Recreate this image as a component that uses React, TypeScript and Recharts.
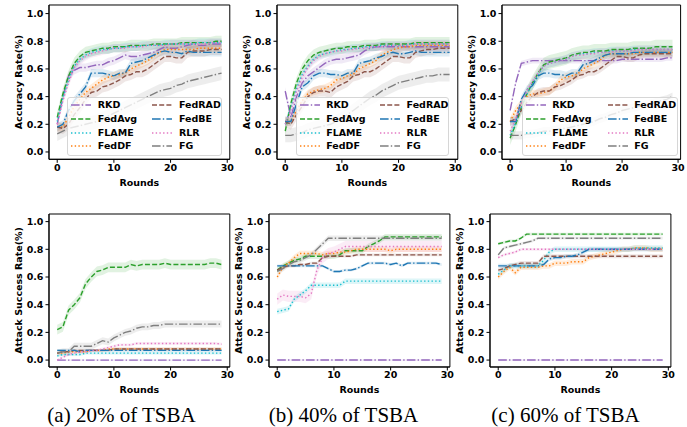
import { ComposedChart, Line, Area, XAxis, YAxis, ReferenceArea } from 'recharts';

const ROUNDS = Array.from({ length: 30 }, (_, i) => i);
const X_TICKS = [0, 10, 20, 30];
const Y_TICKS = [0, 0.2, 0.4, 0.6, 0.8, 1.0];
const NAMES = ['RKD', 'FedAvg', 'FLAME', 'FedDF', 'FedRAD', 'FedBE', 'RLR', 'FG'];
const COLORS = ['#9467bd', '#2ca02c', '#17becf', '#ff7f0e', '#8c564b', '#1f77b4', '#e377c2', '#7f7f7f'];
const DASHES = ['8.6 2.2 1.4 2.2', '5 2.2', '1.4 2.3', '1.4 2.3', '5 2.2', '8.6 2.2 1.4 2.2', '1.4 2.3', '8.6 2.2 1.4 2.2'];
const CAPTIONS = ['(a) 20% of TSBA', '(b) 40% of TSBA', '(c) 60% of TSBA'];

// accuracy, 20% TSBA
const acc20RKD = [0.20, 0.40, 0.55, 0.59, 0.61, 0.61, 0.62, 0.63, 0.63, 0.65, 0.66, 0.68, 0.70, 0.69, 0.69, 0.70, 0.71, 0.72, 0.74, 0.76, 0.75, 0.75, 0.76, 0.77, 0.78, 0.77, 0.77, 0.78, 0.78, 0.78];
const acc20FedAvg = [0.25, 0.42, 0.55, 0.64, 0.69, 0.72, 0.73, 0.74, 0.75, 0.75, 0.76, 0.76, 0.76, 0.77, 0.77, 0.77, 0.77, 0.78, 0.78, 0.78, 0.78, 0.78, 0.79, 0.79, 0.79, 0.79, 0.79, 0.79, 0.80, 0.80];
const acc20FLAME = [0.22, 0.39, 0.52, 0.62, 0.67, 0.70, 0.72, 0.73, 0.74, 0.74, 0.75, 0.75, 0.76, 0.76, 0.76, 0.77, 0.77, 0.77, 0.77, 0.78, 0.78, 0.78, 0.78, 0.78, 0.78, 0.79, 0.79, 0.79, 0.79, 0.79];
const acc20FedDF = [0.18, 0.18, 0.25, 0.33, 0.38, 0.43, 0.46, 0.49, 0.52, 0.54, 0.55, 0.56, 0.57, 0.60, 0.62, 0.64, 0.66, 0.69, 0.72, 0.74, 0.74, 0.74, 0.74, 0.74, 0.74, 0.75, 0.75, 0.75, 0.75, 0.75];
const acc20FedRAD = [0.18, 0.17, 0.20, 0.27, 0.32, 0.38, 0.43, 0.44, 0.47, 0.48, 0.50, 0.52, 0.55, 0.56, 0.58, 0.58, 0.60, 0.63, 0.66, 0.69, 0.69, 0.68, 0.68, 0.72, 0.73, 0.73, 0.73, 0.74, 0.74, 0.74];
const acc20FedBE = [0.18, 0.20, 0.30, 0.37, 0.42, 0.47, 0.57, 0.57, 0.57, 0.56, 0.55, 0.57, 0.57, 0.64, 0.65, 0.66, 0.68, 0.70, 0.72, 0.73, 0.72, 0.72, 0.71, 0.73, 0.72, 0.72, 0.72, 0.72, 0.72, 0.72];
const acc20RLR = [0.20, 0.37, 0.50, 0.61, 0.66, 0.69, 0.71, 0.72, 0.73, 0.74, 0.75, 0.75, 0.75, 0.76, 0.76, 0.76, 0.77, 0.77, 0.77, 0.77, 0.78, 0.78, 0.78, 0.78, 0.78, 0.78, 0.78, 0.79, 0.79, 0.79];
const acc20FG = [0.13, 0.15, 0.17, 0.18, 0.19, 0.20, 0.21, 0.22, 0.24, 0.26, 0.28, 0.30, 0.32, 0.34, 0.36, 0.38, 0.40, 0.42, 0.44, 0.45, 0.46, 0.48, 0.49, 0.51, 0.52, 0.53, 0.54, 0.55, 0.56, 0.57];

// accuracy, 40% TSBA
const acc40RKD = [0.44, 0.25, 0.40, 0.50, 0.55, 0.58, 0.61, 0.64, 0.66, 0.67, 0.67, 0.68, 0.69, 0.70, 0.73, 0.75, 0.76, 0.76, 0.76, 0.76, 0.76, 0.76, 0.76, 0.76, 0.76, 0.76, 0.76, 0.76, 0.76, 0.76];
const acc40FedAvg = [0.15, 0.35, 0.50, 0.60, 0.66, 0.70, 0.72, 0.73, 0.74, 0.75, 0.75, 0.76, 0.76, 0.76, 0.77, 0.77, 0.77, 0.78, 0.78, 0.78, 0.78, 0.78, 0.78, 0.79, 0.79, 0.79, 0.79, 0.79, 0.79, 0.79];
const acc40FLAME = [0.20, 0.32, 0.46, 0.56, 0.62, 0.67, 0.70, 0.71, 0.72, 0.73, 0.74, 0.74, 0.75, 0.75, 0.76, 0.76, 0.76, 0.77, 0.77, 0.77, 0.77, 0.77, 0.78, 0.78, 0.78, 0.78, 0.78, 0.78, 0.78, 0.78];
const acc40FedDF = [0.22, 0.22, 0.30, 0.37, 0.42, 0.44, 0.45, 0.46, 0.48, 0.52, 0.53, 0.55, 0.56, 0.60, 0.62, 0.64, 0.66, 0.70, 0.72, 0.74, 0.75, 0.76, 0.76, 0.77, 0.77, 0.77, 0.77, 0.77, 0.77, 0.77];
const acc40FedRAD = [0.22, 0.20, 0.27, 0.33, 0.40, 0.43, 0.44, 0.44, 0.43, 0.47, 0.49, 0.51, 0.55, 0.56, 0.58, 0.58, 0.60, 0.63, 0.66, 0.69, 0.69, 0.68, 0.68, 0.72, 0.73, 0.74, 0.74, 0.75, 0.75, 0.75];
const acc40FedBE = [0.22, 0.22, 0.35, 0.47, 0.50, 0.55, 0.57, 0.57, 0.56, 0.56, 0.55, 0.57, 0.57, 0.64, 0.65, 0.66, 0.68, 0.69, 0.71, 0.72, 0.71, 0.71, 0.72, 0.73, 0.72, 0.72, 0.72, 0.72, 0.72, 0.72];
const acc40RLR = [0.20, 0.30, 0.44, 0.54, 0.61, 0.66, 0.69, 0.71, 0.72, 0.73, 0.73, 0.74, 0.74, 0.75, 0.75, 0.76, 0.76, 0.76, 0.77, 0.77, 0.77, 0.77, 0.77, 0.78, 0.78, 0.78, 0.78, 0.78, 0.78, 0.78];
const acc40FG = [0.12, 0.12, 0.13, 0.14, 0.16, 0.17, 0.18, 0.19, 0.20, 0.22, 0.24, 0.27, 0.30, 0.33, 0.36, 0.39, 0.41, 0.44, 0.46, 0.48, 0.50, 0.51, 0.52, 0.53, 0.54, 0.55, 0.55, 0.56, 0.56, 0.56];

// accuracy, 60% TSBA
const acc60RKD = [0.30, 0.50, 0.64, 0.65, 0.66, 0.66, 0.66, 0.66, 0.66, 0.66, 0.66, 0.66, 0.66, 0.66, 0.66, 0.66, 0.66, 0.66, 0.66, 0.66, 0.67, 0.67, 0.67, 0.67, 0.67, 0.67, 0.67, 0.67, 0.68, 0.68];
const acc60FedAvg = [0.10, 0.20, 0.32, 0.42, 0.50, 0.57, 0.63, 0.65, 0.66, 0.67, 0.68, 0.70, 0.71, 0.72, 0.72, 0.73, 0.73, 0.73, 0.74, 0.74, 0.74, 0.74, 0.75, 0.75, 0.75, 0.75, 0.76, 0.76, 0.76, 0.76];
const acc60FLAME = [0.12, 0.21, 0.32, 0.42, 0.50, 0.56, 0.62, 0.64, 0.65, 0.66, 0.67, 0.69, 0.70, 0.71, 0.71, 0.72, 0.72, 0.72, 0.73, 0.73, 0.73, 0.73, 0.74, 0.74, 0.74, 0.74, 0.74, 0.74, 0.74, 0.74];
const acc60FedDF = [0.22, 0.30, 0.35, 0.40, 0.42, 0.42, 0.43, 0.44, 0.47, 0.52, 0.54, 0.55, 0.56, 0.60, 0.62, 0.64, 0.66, 0.70, 0.71, 0.71, 0.71, 0.71, 0.71, 0.72, 0.72, 0.72, 0.72, 0.72, 0.72, 0.72];
const acc60FedRAD = [0.22, 0.24, 0.30, 0.36, 0.40, 0.43, 0.44, 0.44, 0.47, 0.48, 0.50, 0.52, 0.55, 0.56, 0.58, 0.58, 0.60, 0.63, 0.66, 0.69, 0.69, 0.68, 0.68, 0.70, 0.71, 0.71, 0.71, 0.71, 0.71, 0.71];
const acc60FedBE = [0.22, 0.22, 0.38, 0.45, 0.48, 0.55, 0.57, 0.57, 0.56, 0.56, 0.55, 0.57, 0.57, 0.63, 0.64, 0.66, 0.68, 0.70, 0.71, 0.71, 0.71, 0.71, 0.72, 0.72, 0.72, 0.72, 0.72, 0.72, 0.72, 0.72];
const acc60RLR = [0.15, 0.24, 0.35, 0.44, 0.51, 0.57, 0.62, 0.64, 0.65, 0.66, 0.67, 0.69, 0.70, 0.70, 0.71, 0.71, 0.72, 0.72, 0.72, 0.73, 0.73, 0.73, 0.73, 0.74, 0.74, 0.74, 0.74, 0.74, 0.74, 0.74];
const acc60FG = [0.12, 0.12, 0.12, 0.13, 0.13, 0.14, 0.15, 0.15, 0.16, 0.17, 0.17, 0.18, 0.19, 0.20, 0.21, 0.22, 0.24, 0.25, 0.27, 0.28, 0.30, 0.31, 0.32, 0.33, 0.34, 0.35, 0.36, 0.37, 0.38, 0.40];

// attack success rate, 20% TSBA
const asr20RKD = [0, 0, 0, 0, 0, 0, 0, 0, 0, 0, 0, 0, 0, 0, 0, 0, 0, 0, 0, 0, 0, 0, 0, 0, 0, 0, 0, 0, 0, 0];
const asr20FedAvg = [0.22, 0.24, 0.36, 0.40, 0.45, 0.55, 0.60, 0.64, 0.65, 0.67, 0.67, 0.67, 0.67, 0.69, 0.68, 0.69, 0.69, 0.69, 0.69, 0.70, 0.69, 0.69, 0.69, 0.69, 0.69, 0.69, 0.69, 0.70, 0.70, 0.69];
const asr20FLAME = [0.03, 0.04, 0.04, 0.04, 0.04, 0.05, 0.05, 0.05, 0.05, 0.05, 0.05, 0.05, 0.05, 0.05, 0.05, 0.05, 0.05, 0.05, 0.05, 0.05, 0.05, 0.05, 0.05, 0.05, 0.05, 0.05, 0.05, 0.05, 0.05, 0.05];
const asr20FedDF = [0.05, 0.05, 0.06, 0.06, 0.06, 0.06, 0.07, 0.07, 0.07, 0.08, 0.08, 0.08, 0.08, 0.08, 0.08, 0.08, 0.08, 0.08, 0.08, 0.08, 0.08, 0.08, 0.08, 0.08, 0.08, 0.08, 0.08, 0.08, 0.08, 0.08];
const asr20FedRAD = [0.05, 0.06, 0.06, 0.07, 0.07, 0.07, 0.07, 0.07, 0.07, 0.07, 0.08, 0.08, 0.08, 0.08, 0.08, 0.08, 0.08, 0.08, 0.08, 0.08, 0.08, 0.08, 0.08, 0.08, 0.08, 0.08, 0.08, 0.08, 0.08, 0.08];
const asr20FedBE = [0.07, 0.07, 0.07, 0.07, 0.06, 0.07, 0.07, 0.07, 0.07, 0.07, 0.07, 0.07, 0.07, 0.07, 0.07, 0.07, 0.07, 0.07, 0.07, 0.07, 0.07, 0.07, 0.07, 0.07, 0.07, 0.07, 0.07, 0.07, 0.07, 0.07];
const asr20RLR = [0.00, 0.02, 0.04, 0.05, 0.06, 0.06, 0.07, 0.07, 0.08, 0.09, 0.10, 0.11, 0.11, 0.11, 0.12, 0.12, 0.12, 0.12, 0.12, 0.12, 0.12, 0.12, 0.12, 0.12, 0.12, 0.12, 0.12, 0.12, 0.12, 0.115];
const asr20FG = [0.05, 0.06, 0.06, 0.10, 0.10, 0.10, 0.10, 0.12, 0.14, 0.13, 0.16, 0.18, 0.20, 0.21, 0.23, 0.24, 0.24, 0.25, 0.25, 0.26, 0.26, 0.26, 0.26, 0.26, 0.26, 0.26, 0.26, 0.26, 0.26, 0.26];

// attack success rate, 40% TSBA
const asr40RKD = [0, 0, 0, 0, 0, 0, 0, 0, 0, 0, 0, 0, 0, 0, 0, 0, 0, 0, 0, 0, 0, 0, 0, 0, 0, 0, 0, 0, 0, 0];
const asr40FedAvg = [0.65, 0.68, 0.70, 0.72, 0.73, 0.75, 0.75, 0.75, 0.75, 0.75, 0.75, 0.76, 0.79, 0.79, 0.79, 0.79, 0.82, 0.84, 0.86, 0.89, 0.89, 0.89, 0.89, 0.89, 0.89, 0.89, 0.89, 0.89, 0.89, 0.89];
const asr40FLAME = [0.35, 0.36, 0.37, 0.44, 0.47, 0.50, 0.54, 0.54, 0.54, 0.54, 0.54, 0.54, 0.57, 0.57, 0.57, 0.57, 0.57, 0.57, 0.57, 0.57, 0.57, 0.57, 0.57, 0.57, 0.57, 0.57, 0.57, 0.57, 0.57, 0.57];
const asr40FedDF = [0.60, 0.67, 0.70, 0.74, 0.77, 0.77, 0.77, 0.77, 0.76, 0.77, 0.77, 0.78, 0.78, 0.79, 0.80, 0.80, 0.80, 0.80, 0.80, 0.80, 0.79, 0.80, 0.80, 0.80, 0.80, 0.80, 0.80, 0.80, 0.80, 0.80];
const asr40FedRAD = [0.65, 0.67, 0.68, 0.68, 0.69, 0.69, 0.70, 0.70, 0.74, 0.75, 0.75, 0.75, 0.75, 0.75, 0.76, 0.76, 0.76, 0.76, 0.76, 0.76, 0.76, 0.76, 0.76, 0.76, 0.76, 0.76, 0.76, 0.76, 0.76, 0.76];
const asr40FedBE = [0.68, 0.68, 0.68, 0.68, 0.68, 0.68, 0.68, 0.68, 0.68, 0.66, 0.64, 0.64, 0.65, 0.65, 0.66, 0.68, 0.70, 0.70, 0.70, 0.70, 0.69, 0.70, 0.68, 0.70, 0.70, 0.70, 0.70, 0.70, 0.70, 0.69];
const asr40RLR = [0.44, 0.47, 0.46, 0.46, 0.46, 0.45, 0.48, 0.65, 0.74, 0.77, 0.78, 0.80, 0.82, 0.82, 0.82, 0.82, 0.82, 0.82, 0.82, 0.82, 0.82, 0.82, 0.82, 0.82, 0.82, 0.82, 0.82, 0.82, 0.82, 0.82];
const asr40FG = [0.64, 0.66, 0.69, 0.71, 0.72, 0.74, 0.76, 0.80, 0.84, 0.88, 0.88, 0.88, 0.88, 0.88, 0.88, 0.88, 0.88, 0.88, 0.88, 0.88, 0.88, 0.88, 0.88, 0.88, 0.88, 0.88, 0.88, 0.88, 0.88, 0.88];

// attack success rate, 60% TSBA
const asr60RKD = [0, 0, 0, 0, 0, 0, 0, 0, 0, 0, 0, 0, 0, 0, 0, 0, 0, 0, 0, 0, 0, 0, 0, 0, 0, 0, 0, 0, 0, 0];
const asr60FedAvg = [0.84, 0.85, 0.86, 0.86, 0.88, 0.91, 0.91, 0.91, 0.91, 0.91, 0.91, 0.91, 0.91, 0.91, 0.91, 0.91, 0.91, 0.91, 0.91, 0.91, 0.91, 0.91, 0.91, 0.91, 0.91, 0.91, 0.91, 0.91, 0.91, 0.91];
const asr60FLAME = [0.62, 0.65, 0.68, 0.68, 0.68, 0.68, 0.68, 0.68, 0.72, 0.78, 0.80, 0.80, 0.80, 0.80, 0.80, 0.80, 0.80, 0.80, 0.80, 0.80, 0.80, 0.80, 0.80, 0.80, 0.81, 0.81, 0.81, 0.81, 0.81, 0.81];
const asr60FedDF = [0.60, 0.64, 0.67, 0.63, 0.67, 0.67, 0.67, 0.67, 0.68, 0.68, 0.70, 0.70, 0.70, 0.71, 0.71, 0.71, 0.74, 0.75, 0.76, 0.77, 0.78, 0.79, 0.80, 0.80, 0.81, 0.81, 0.81, 0.80, 0.80, 0.80];
const asr60FedRAD = [0.65, 0.66, 0.68, 0.69, 0.70, 0.70, 0.70, 0.70, 0.75, 0.75, 0.75, 0.75, 0.75, 0.75, 0.75, 0.75, 0.75, 0.75, 0.75, 0.75, 0.75, 0.75, 0.75, 0.75, 0.75, 0.75, 0.75, 0.75, 0.75, 0.75];
const asr60FedBE = [0.68, 0.68, 0.68, 0.68, 0.68, 0.68, 0.68, 0.68, 0.69, 0.73, 0.74, 0.74, 0.75, 0.75, 0.76, 0.78, 0.80, 0.80, 0.80, 0.80, 0.80, 0.80, 0.80, 0.80, 0.80, 0.80, 0.80, 0.80, 0.80, 0.80];
const asr60RLR = [0.74, 0.76, 0.77, 0.78, 0.80, 0.80, 0.80, 0.80, 0.80, 0.80, 0.80, 0.80, 0.80, 0.80, 0.80, 0.80, 0.80, 0.80, 0.80, 0.80, 0.80, 0.80, 0.80, 0.80, 0.80, 0.80, 0.80, 0.80, 0.80, 0.80];
const asr60FG = [0.76, 0.81, 0.82, 0.83, 0.84, 0.85, 0.86, 0.88, 0.88, 0.88, 0.88, 0.88, 0.88, 0.88, 0.88, 0.88, 0.88, 0.88, 0.88, 0.88, 0.88, 0.88, 0.88, 0.88, 0.88, 0.88, 0.88, 0.88, 0.88, 0.88];

// half-width of the shaded band per series (RKD..FG order)
const acc20Spread = [0.03, 0.04, 0.03, 0.03, 0.04, 0.03, 0.03, 0.05];
const acc40Spread = [0.03, 0.04, 0.03, 0.03, 0.04, 0.03, 0.03, 0.05];
const acc60Spread = [0.02, 0.05, 0.03, 0.03, 0.03, 0.03, 0.03, 0.03];
const asr20Spread = [0.005, 0.035, 0.01, 0.01, 0.01, 0.01, 0.01, 0.025];
const asr40Spread = [0.005, 0.02, 0.02, 0.02, 0.01, 0.01, 0.04, 0.02];
const asr60Spread = [0.005, 0.01, 0.02, 0.02, 0.015, 0.015, 0.01, 0.01];

interface PanelDef {
  series: number[][];
  spread: number[];
  left: number;
  right: number;
  top: number;
  bottom: number;
  yDomain: [number, number];
  yLabel: string;
  legend?: { left: number; width: number };
}

const PANELS: PanelDef[] = [
  { series: [acc20RKD, acc20FedAvg, acc20FLAME, acc20FedDF, acc20FedRAD, acc20FedBE, acc20RLR, acc20FG], spread: acc20Spread, left: 48.5, right: 229.3, top: 4.7, bottom: 159, yDomain: [-0.053, 1.062], yLabel: 'Accuracy Rate(%)', legend: { left: 67.3, width: 154.4 } },
  { series: [acc40RKD, acc40FedAvg, acc40FLAME, acc40FedDF, acc40FedRAD, acc40FedBE, acc40RLR, acc40FG], spread: acc40Spread, left: 276.5, right: 457.3, top: 4.7, bottom: 159, yDomain: [-0.053, 1.062], yLabel: 'Accuracy Rate(%)', legend: { left: 295.7, width: 153 } },
  { series: [acc60RKD, acc60FedAvg, acc60FLAME, acc60FedDF, acc60FedRAD, acc60FedBE, acc60RLR, acc60FG], spread: acc60Spread, left: 501.9, right: 680.5, top: 4.7, bottom: 159, yDomain: [-0.053, 1.062], yLabel: 'Accuracy Rate(%)', legend: { left: 521.7, width: 156 } },
  { series: [asr20RKD, asr20FedAvg, asr20FLAME, asr20FedDF, asr20FedRAD, asr20FedBE, asr20RLR, asr20FG], spread: asr20Spread, left: 48.5, right: 229.3, top: 213.5, bottom: 366.5, yDomain: [-0.05, 1.055], yLabel: 'Attack Success Rate(%)' },
  { series: [asr40RKD, asr40FedAvg, asr40FLAME, asr40FedDF, asr40FedRAD, asr40FedBE, asr40RLR, asr40FG], spread: asr40Spread, left: 269.1, right: 450, top: 213.5, bottom: 366.5, yDomain: [-0.05, 1.055], yLabel: 'Attack Success Rate(%)' },
  { series: [asr60RKD, asr60FedAvg, asr60FLAME, asr60FedDF, asr60FedRAD, asr60FedBE, asr60RLR, asr60FG], spread: asr60Spread, left: 490.1, right: 671, top: 213.5, bottom: 366.5, yDomain: [-0.05, 1.055], yLabel: 'Attack Success Rate(%)' },
];

const TICK_FONT = { fontSize: 9.5, fontWeight: 700, fill: '#000', fontFamily: 'DejaVu Sans' };

function Legend8({ left, top, width }: { left: number; top: number; width: number }) {
  return (
    <div
      style={{
        position: 'absolute', left, top, width, height: 58.7, boxSizing: 'border-box',
        border: '1px solid #d6d6d6', borderRadius: 3, background: 'rgba(255,255,255,0.8)',
        fontFamily: 'DejaVu Sans', fontWeight: 700, fontSize: 9.5, color: '#000',
      }}
    >
      {NAMES.map((n, i) => {
        const col = i < 4 ? 0 : 1;
        const row = i % 4;
        const x0 = col === 0 ? 3 : width * 0.545;
        return (
          <div key={n} style={{ position: 'absolute', left: x0, top: 1 + row * 13.7, height: 12, display: 'flex', alignItems: 'center' }}>
            <svg width={21} height={6} style={{ marginRight: 5.5 }}>
              <line x1={0} y1={3} x2={20} y2={3} stroke={COLORS[i]} strokeWidth={1.4} strokeDasharray={DASHES[i]} />
            </svg>
            <span style={{ lineHeight: '12px' }}>{n}</span>
          </div>
        );
      })}
    </div>
  );
}

function PanelChart({ p }: { p: PanelDef }) {
  const w = p.right - p.left;
  const h = p.bottom - p.top;
  const data = ROUNDS.map((r, i) => {
    const row: Record<string, any> = { r };
    NAMES.forEach((n, k) => {
      const v = p.series[k][i];
      row[n] = v;
      row[n + '_band'] = [v - p.spread[k], v + p.spread[k]];
    });
    return row;
  });

  return (
    <div style={{ position: 'absolute', left: p.left - 45, top: p.top - 5 }}>
      <ComposedChart width={w + 50} height={h + 40} data={data} margin={{ top: 5, right: 5, bottom: 0, left: 0 }}>
        <XAxis
          dataKey="r"
          type="number"
          domain={[-1.45, 30.45]}
          allowDataOverflow
          ticks={X_TICKS}
          height={35}
          tick={TICK_FONT}
          tickSize={3.5}
          tickMargin={1}
          stroke="#000"
          label={{
            content: ({ viewBox }: any) => (
              <text x={viewBox.x + viewBox.width / 2} y={viewBox.y + 23} textAnchor="middle" dominantBaseline="central" style={TICK_FONT}>
                Rounds
              </text>
            ),
          }}
        />
        <YAxis
          type="number"
          domain={p.yDomain}
          allowDataOverflow
          ticks={Y_TICKS}
          width={45}
          tick={TICK_FONT}
          tickSize={3.5}
          tickMargin={2}
          stroke="#000"
          tickFormatter={(v: number) => v.toFixed(1)}
          label={{
            content: ({ viewBox }: any) => {
              const cx = viewBox.x + 14.5;
              const cy = viewBox.y + viewBox.height / 2;
              return (
                <text x={cx} y={cy} transform={`rotate(-90 ${cx} ${cy})`} textAnchor="middle" dominantBaseline="central" style={TICK_FONT}>
                  {p.yLabel}
                </text>
              );
            },
          }}
        />
        {NAMES.map((n, k) => (
          <Area key={n + '_band'} dataKey={n + '_band'} stroke="none" fill={COLORS[k]} fillOpacity={0.14} isAnimationActive={false} activeDot={false} />
        ))}
        {NAMES.map((n, k) => (
          <Line key={n} dataKey={n} stroke={COLORS[k]} strokeWidth={1.4} strokeDasharray={DASHES[k]} dot={false} activeDot={false} isAnimationActive={false} type="linear" />
        ))}
        <ReferenceArea x1={-1.45} x2={30.45} y1={p.yDomain[0]} y2={p.yDomain[1]} fill="none" stroke="#000" strokeWidth={1} ifOverflow="visible" />
      </ComposedChart>
    </div>
  );
}

export default function App() {
  return (
    <div style={{ position: 'absolute', left: 0, top: 0, width: 687, height: 427, background: '#fff', overflow: 'hidden' }}>
      {PANELS.map((p, i) => (
        <PanelChart key={i} p={p} />
      ))}
      {PANELS.map((p, i) =>
        p.legend ? <Legend8 key={'lg' + i} left={p.legend.left} top={97.3} width={p.legend.width} /> : null
      )}
      {CAPTIONS.map((c, i) => (
        <div
          key={c}
          style={{
            position: 'absolute', left: [121.5, 343.5, 565.5][i] - 100, top: 402, width: 200, textAlign: 'center',
            fontFamily: 'Liberation Serif', fontSize: 21, lineHeight: '26px', color: '#000',
          }}
        >
          {c}
        </div>
      ))}
    </div>
  );
}
